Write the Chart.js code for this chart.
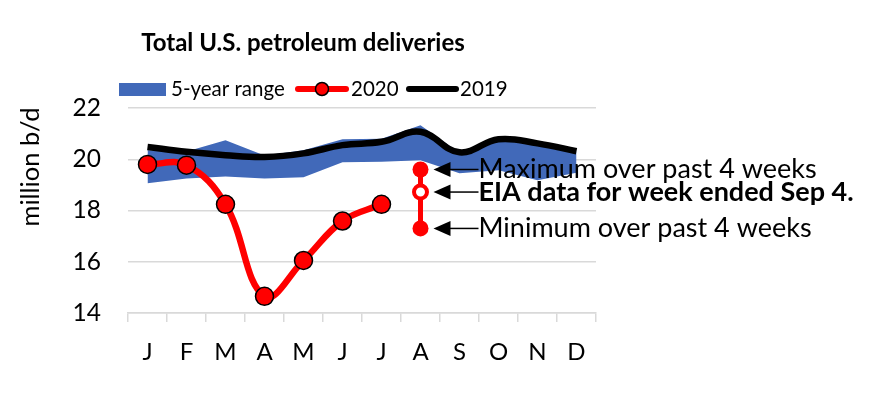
<!DOCTYPE html>
<html>
<head>
<meta charset="utf-8">
<script src="https://cdn.jsdelivr.net/npm/chart.js@4"></script>
<style>
  html, body { margin: 0; padding: 0; background: #fff; }
  #wrap { width: 875px; height: 397px; }
</style>
</head>
<body>
<div id="wrap"><canvas id="chart" width="875" height="397"></canvas></div>
<script>
// DATOS
const months = ['J', 'F', 'M', 'A', 'M', 'J', 'J', 'A', 'S', 'O', 'N', 'D'];
const rangeMin = [19.06, 19.25, 19.33, 19.25, 19.3, 19.88, 19.9, 19.96, 19.45, 19.57, 19.18, 19.47];
const rangeMax = [20.35, 20.3, 20.74, 20.15, 20.35, 20.78, 20.8, 21.33, 20.25, 20.75, 20.6, 20.3];
const data2019 = [20.48, 20.29, 20.16, 20.09, 20.23, 20.55, 20.68, 21.07, 20.27, 20.78, 20.62, 20.31];
const data2020 = [19.8, 19.77, 18.24, 14.65, 16.05, 17.59, 18.24, null, null, null, null, null];
const augIndex = 7;
const augValues = [19.6, 18.72, 17.3];
const augLabels = ['Maximum over past 4 weeks', 'EIA data for week ended Sep 4.', 'Minimum over past 4 weeks'];
const yTicks = [14, 16, 18, 20, 22];

// ESTILO
const FONT = 'Lato';
const BLUE = '#4169b9';
const RED = '#ff0000';
const GRID = '#d9d9d9';

// textos, leyenda y flechas fuera del área de datos
const decor = {
    id: 'decor',
    afterDatasetsDraw(chart) {
        const ctx = chart.ctx;
        const x = chart.scales.x, y = chart.scales.y;
        ctx.save();
        ctx.fillStyle = '#000';
        ctx.textBaseline = 'middle';

        // título
        ctx.font = 'bold 24px ' + FONT;
        ctx.textAlign = 'center';
        ctx.fillText('Total U.S. petroleum deliveries', 303, 43);

        // leyenda
        ctx.textAlign = 'left';
        ctx.font = '20.5px ' + FONT;
        ctx.fillStyle = BLUE;
        ctx.fillRect(119, 83, 47, 13);
        ctx.fillStyle = '#000';
        ctx.fillText('5-year range', 171, 89);

        ctx.lineCap = 'round';
        ctx.strokeStyle = RED;
        ctx.lineWidth = 6;
        ctx.beginPath(); ctx.moveTo(298, 89); ctx.lineTo(346, 89); ctx.stroke();
        ctx.beginPath(); ctx.arc(322, 89, 6.5, 0, Math.PI * 2);
        ctx.fillStyle = RED; ctx.fill();
        ctx.lineWidth = 1.5; ctx.strokeStyle = '#000'; ctx.stroke();
        ctx.fillStyle = '#000';
        ctx.fillText('2020', 351, 89);

        ctx.strokeStyle = '#000';
        ctx.lineWidth = 6;
        ctx.beginPath(); ctx.moveTo(409, 89); ctx.lineTo(456, 89); ctx.stroke();
        ctx.fillText('2019', 460, 89);

        // título eje Y
        ctx.save();
        ctx.translate(31, 167);
        ctx.rotate(-Math.PI / 2);
        ctx.textAlign = 'center';
        ctx.font = '25.5px ' + FONT;
        ctx.fillText('million b/d', 0, 0);
        ctx.restore();

        // flechas + notas de agosto
        const px = x.getPixelForValue(augIndex);
        augValues.forEach((v, i) => {
            const py = y.getPixelForValue(v);
            const tip = px + 13;
            ctx.fillStyle = '#000';
            ctx.beginPath();
            ctx.moveTo(tip, py);
            ctx.lineTo(tip + 17, py - 7.5);
            ctx.lineTo(tip + 17, py + 7.5);
            ctx.closePath();
            ctx.fill();
            ctx.lineWidth = 1.5;
            ctx.lineCap = 'butt';
            ctx.beginPath(); ctx.moveTo(tip + 15, py); ctx.lineTo(px + 58, py); ctx.stroke();
            ctx.font = (i === 1 ? 'bold ' : '') + '27px ' + FONT;
            ctx.textAlign = 'left';
            ctx.fillText(augLabels[i], px + 58, py);
        });
        ctx.restore();
    }
};

new Chart(document.getElementById('chart'), {
    type: 'line',
    data: {
        labels: months,
        datasets: [
            {
                label: '2020',
                data: data2020,
                borderColor: RED,
                borderWidth: 6.5,
                tension: 0.4,
                pointRadius: 9,
                pointBackgroundColor: RED,
                pointBorderColor: '#000',
                pointBorderWidth: 1.5,
                order: 0
            },
            {
                label: 'Aug',
                xAxisID: 'xIdx',
                data: augValues.map(v => ({ x: augIndex, y: v })),
                borderColor: RED,
                borderWidth: 5,
                tension: 0,
                pointRadius: [8, 6.5, 8],
                pointBackgroundColor: [RED, '#fff', RED],
                pointBorderColor: RED,
                pointBorderWidth: [0, 4, 0],
                order: 1
            },
            {
                label: '2019',
                data: data2019,
                borderColor: '#000',
                borderWidth: 6.5,
                tension: 0.4,
                pointRadius: 0,
                order: 2
            },
            {
                label: 'rangeMax',
                data: rangeMax,
                borderWidth: 0,
                pointRadius: 0,
                tension: 0,
                fill: '+1',
                backgroundColor: BLUE,
                order: 3
            },
            {
                label: 'rangeMin',
                data: rangeMin,
                borderWidth: 0,
                pointRadius: 0,
                tension: 0,
                fill: false,
                order: 4
            }
        ]
    },
    options: {
        responsive: false,
        animation: false,
        events: [],
        layout: { padding: { top: 108, right: 279, left: 0, bottom: 0 } },
        plugins: { legend: { display: false }, title: { display: false }, tooltip: { enabled: false } },
        scales: {
            x: {
                offset: true,
                grid: { drawOnChartArea: false, drawTicks: true, tickLength: 9, color: GRID, lineWidth: 1.5, offset: true },
                border: { color: GRID, width: 1.5 },
                ticks: { color: '#000', font: { family: FONT, size: 24 }, padding: 16, autoSkip: false, maxRotation: 0 },
                afterFit(s) { s.height = 84; }
            },
            // eje oculto por índice de mes, para los puntos de agosto
            xIdx: {
                type: 'linear',
                display: false,
                min: -0.5,
                max: months.length - 0.5
            },
            y: {
                min: 14,
                max: 22,
                afterBuildTicks(s) { s.ticks = yTicks.map(v => ({ value: v })); },
                grid: { color: GRID, lineWidth: 1.5, drawTicks: false },
                border: { display: false },
                ticks: { color: '#000', font: { family: FONT, size: 24.5 }, padding: 27 },
                afterFit(s) { s.width = 128; }
            }
        }
    },
    plugins: [decor]
});
</script>
</body>
</html>
